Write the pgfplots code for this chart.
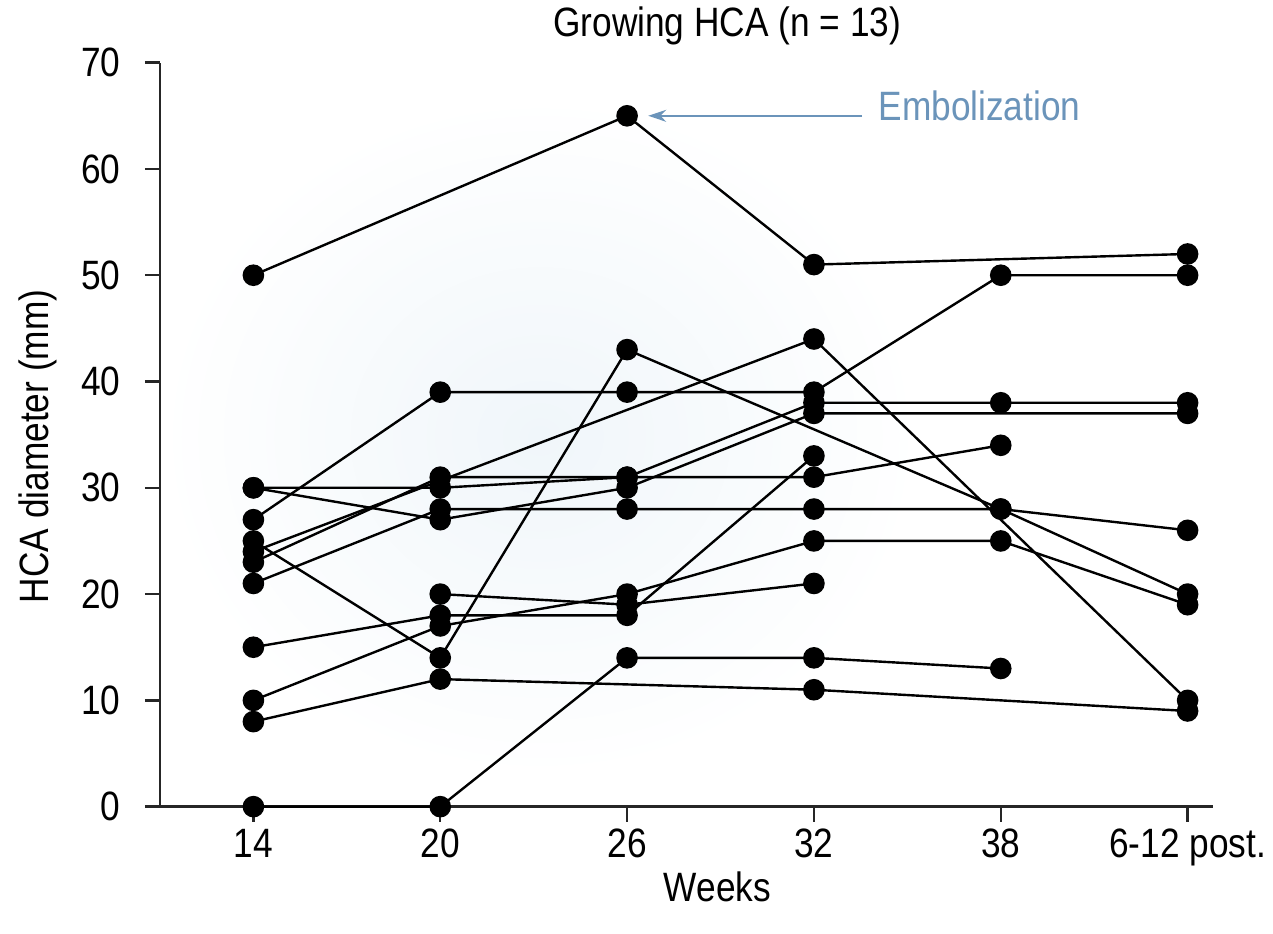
\documentclass[border=0pt]{standalone}
\usepackage{pgfplots}
\pgfplotsset{compat=1.18}
\usepackage{fontspec}
\setmainfont{Liberation Sans}[FakeStretch=0.86]
\usetikzlibrary{arrows.meta}
\newcommand\fnt{\fontsize{20.5pt}{24pt}\selectfont}
\definecolor{emb}{RGB}{107,148,186}
\begin{document}
\begin{tikzpicture}
\path (-80pt,-63.5pt) rectangle (556.5pt,402.5pt);
\shade[inner color={rgb,255:red,240;green,246;blue,250}, outer color=white] (190pt,185pt) ellipse (190pt and 170pt);
\begin{axis}[
  at={(0,0)}, anchor=south west,
  width=526.5pt, height=372pt, scale only axis,
  xmin=-0.5, xmax=5.136, ymin=0, ymax=70,
  axis x line=bottom, axis y line=left,
  axis line style={-, line width=1.2pt, black!85},
  xtick={0,...,5}, xticklabels={14,20,26,32,38,6-12 post.},
  ytick={0,10,...,70},
  tick align=outside, major tick length=7.5pt,
  tick style={line width=1.2pt, black!85},
  ticklabel style={font=\fnt},
  /pgf/number format/assume math mode=true,
  yticklabel style={anchor=east, inner sep=0pt, xshift=-12pt},
  xticklabel style={anchor=north, inner sep=0pt, yshift=-3.5pt},
  clip=false,
  every axis plot post/.append style={black, solid, line width=1.2pt, mark=*, mark size=4.8pt, mark options={solid, fill=black}},
]
% A
\addplot coordinates {(0,50) (2,65) (3,51) (5,52)};
% B
\addplot coordinates {(0,0) (1,0) (2,14) (3,14) (4,13)};
% C
\addplot coordinates {(0,8) (1,12) (3,11) (5,9)};
% D
\addplot coordinates {(0,10) (1,17) (2,20) (3,25) (4,25) (5,19)};
% E
\addplot coordinates {(0,25) (1,14) (2,43) (4,28) (5,20)};
% F
\addplot coordinates {(0,24) (3,44) (5,10)};
% G
\addplot coordinates {(0,27) (1,39) (2,39) (3,39) (4,50) (5,50)};
% H
\addplot coordinates {(0,23) (1,31) (2,31) (3,31) (4,34)};
% I
\addplot coordinates {(0,30) (1,30) (2,31) (3,38) (4,38) (5,38)};
% J
\addplot coordinates {(0,30) (1,27) (2,30) (3,37) (5,37)};
% K
\addplot coordinates {(0,21) (1,28) (2,28) (3,28) (4,28) (5,26)};
% L
\addplot coordinates {(0,15) (1,18) (2,18) (3,33)};
% M
\addplot coordinates {(1,20) (2,19) (3,21)};

\node[font=\fnt] at (axis cs:2.536,73.47) {Growing HCA (n = 13)};
\node[font=\fnt] at (axis cs:2.483,-7.53) {Weeks};
\node[font=\fnt, rotate=90] at (axis cs:-1.156,33.9) {HCA diameter (mm)};
\draw[emb, line width=0.9pt, -{Stealth[length=9pt,width=6pt]}] (axis cs:3.258,65) -- (axis cs:2.113,65);
\node[font=\fnt, text=emb, anchor=west, inner sep=0pt] at (axis cs:3.344,65.95) {Embolization};
\end{axis}
\end{tikzpicture}
\end{document}
